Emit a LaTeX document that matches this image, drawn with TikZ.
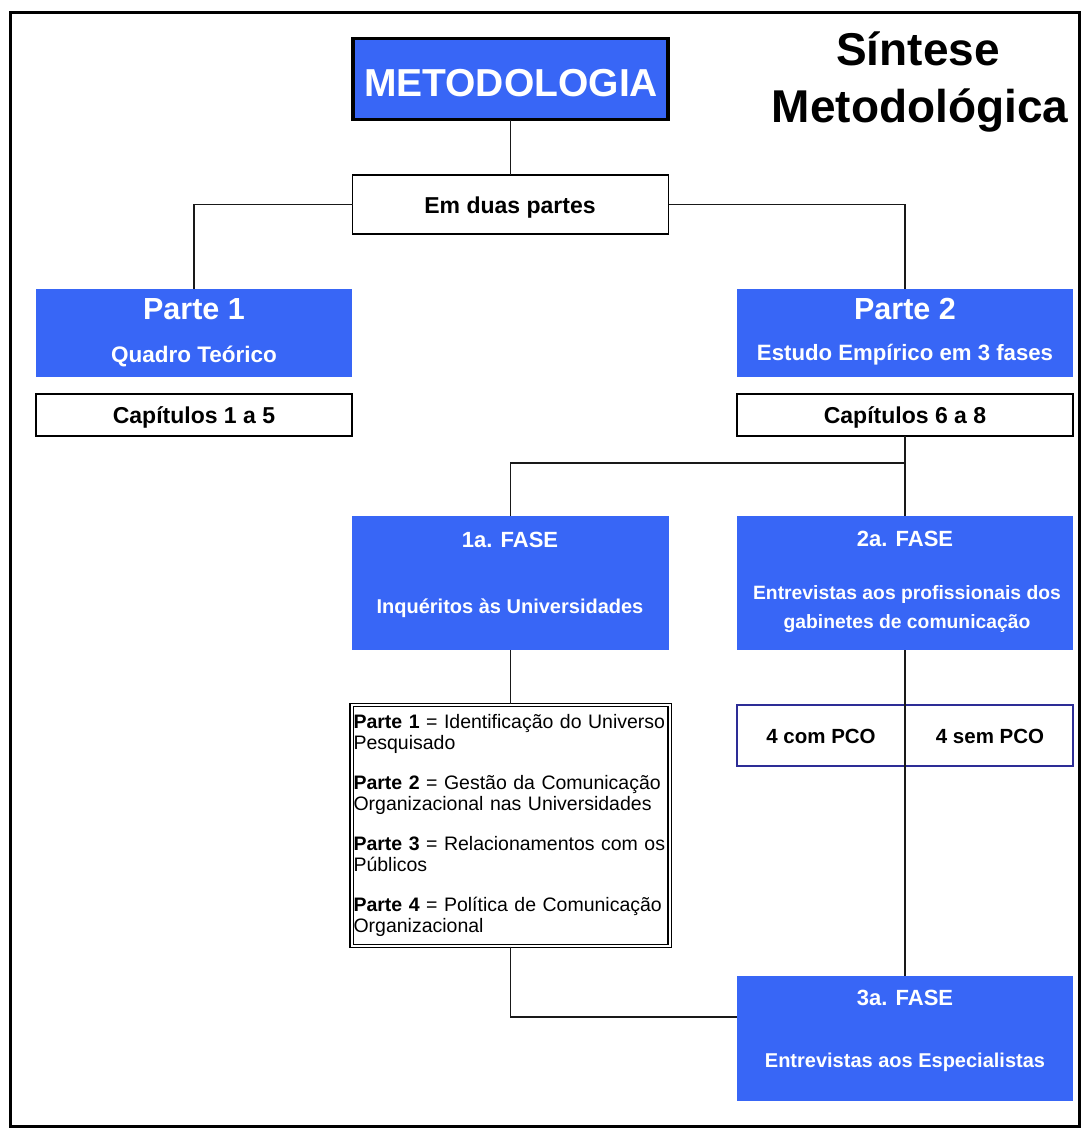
\documentclass[tikz,border=0pt]{standalone}
\usepackage{fontspec}
\setmainfont{Liberation Sans}
\usetikzlibrary{calc}
\definecolor{mblue}{RGB}{56,102,246}
\definecolor{pconavy}{RGB}{45,45,150}
\newcommand\fsz[1]{\fontsize{#1}{#1}\selectfont}
\begin{document}
\begin{tikzpicture}[x=1pt,y=-1pt,
  bluebox/.style={fill=mblue, draw=none, inner sep=0pt, outer sep=0pt, anchor=north west},
  whitebox/.style={fill=white, draw=black, line width=1.4pt, inner sep=0pt, outer sep=0pt, anchor=north west},
  pcobox/.style={fill=white, draw=pconavy, line width=1.4pt, inner sep=0pt, outer sep=0pt, anchor=north west},
  wt/.style={text=white, anchor=base, inner sep=0pt},
  bt/.style={text=black, anchor=base, inner sep=0pt},
  conn/.style={draw=black!90, line width=1.5pt}]
\useasboundingbox (0,0) rectangle (1090,1135);
\fill[white] (0,0) rectangle (1090,1135);
\draw[line width=3pt] (10,12) rectangle (1079,1126);

% title
\node[bt, font=\fsz{46}\bfseries] (t1) at (918,65) {Síntese};
\node[bt, font=\fsz{46}\bfseries] (t2) at (920,122) {Metodológica};

% boxes
\node[bluebox, draw=black, line width=3.2pt, minimum width=315, minimum height=81] (met) at (353,38.5) {};
\node[whitebox, minimum width=316, minimum height=59] (duas) at (352.5,175) {};
\node[bluebox, minimum width=316, minimum height=88] (p1) at (36,289) {};
\node[whitebox, minimum width=316, minimum height=42] (cap1) at (36,394) {};
\node[bluebox, minimum width=336, minimum height=88] (p2) at (737,289) {};
\node[whitebox, minimum width=336, minimum height=42] (cap2) at (737,394) {};
\node[bluebox, minimum width=317, minimum height=134] (f1) at (352,516) {};
\node[bluebox, minimum width=336, minimum height=134] (f2) at (737,516) {};
\node[pcobox, minimum width=168, minimum height=61] (pco1) at (737,705) {};
\node[pcobox, minimum width=168, minimum height=61] (pco2) at (905,705) {};
\node[bluebox, minimum width=336, minimum height=125] (f3) at (737,976) {};

\node[draw=black, double=white, double distance=2pt, line width=1.1pt, fill=white,
      minimum width=318, minimum height=241, text width=314, align=left, inner sep=2pt,
      font=\fontsize{19.5}{21}\selectfont] (tb) at (510.5,825.5)
 {\textbf{Parte 1} = Identificação do Universo\\Pesquisado\\[19pt]
  \textbf{Parte 2} = Gestão da Comunicação\\Organizacional nas Universidades\\[19pt]
  \textbf{Parte 3} = Relacionamentos com os\\Públicos\\[19pt]
  \textbf{Parte 4} = Política de Comunicação\\Organizacional};

% texts
\node[wt, font=\fsz{39}\bfseries] (metT) at (511,96) {METODOLOGIA};
\node[bt, font=\fsz{23}\bfseries] (duasT) at (510,213) {Em duas partes};
\node[wt, font=\fsz{30.5}\bfseries] (p1a) at (194,319) {Parte 1};
\node[wt, font=\fsz{22.5}\bfseries] (p1b) at (194,362) {Quadro Teórico};
\node[bt, font=\fsz{23}\bfseries] (cap1T) at (194,423) {Capítulos 1 a 5};
\node[wt, font=\fsz{30.5}\bfseries] (p2a) at (905,319) {Parte 2};
\node[wt, font=\fsz{22.2}\bfseries] (p2b) at (905,360) {Estudo Empírico em 3 fases};
\node[bt, font=\fsz{23}\bfseries] (cap2T) at (905,423) {Capítulos 6 a 8};
\node[wt, font=\fsz{22}\bfseries] (f1a) at (510,547) {1a. FASE};
\node[wt, font=\fsz{20}\bfseries] (f1b) at (510,613) {Inquéritos às Universidades};
\node[wt, font=\fsz{22}\bfseries] (f2a) at (905,546) {2a. FASE};
\node[wt, font=\fsz{19.3}\bfseries] (f2b) at (907,599) {Entrevistas aos profissionais dos};
\node[wt, font=\fsz{19.3}\bfseries] (f2c) at (907,628) {gabinetes de comunicação};
\node[bt, font=\fsz{20.5}\bfseries] (pco1T) at (821,743) {4 com PCO};
\node[bt, font=\fsz{20.5}\bfseries] (pco2T) at (990,743) {4 sem PCO};
\node[wt, font=\fsz{22}\bfseries] (f3a) at (905,1005) {3a. FASE};
\node[wt, font=\fsz{20}\bfseries] (f3b) at (905,1067) {Entrevistas aos Especialistas};

% connectors
\coordinate (split) at ($(cap2.south)+(0,27)$);
\coordinate (f3in) at ($(f3.north west)+(0,41)$);
\draw[conn] (met.south) -- (duas.north);
\draw[conn] (duas.west) -| (p1.north);
\draw[conn] (duas.east) -| (p2.north);
\draw[conn] (cap2.south) -- (f2.north);
\draw[conn] (split) -| (f1.north);
\draw[conn] (f1.south) -- (tb.north);
\draw[conn] (tb.south) |- (f3in);
\draw[conn] (f2.south) -- (f3.north);
\end{tikzpicture}
\end{document}
